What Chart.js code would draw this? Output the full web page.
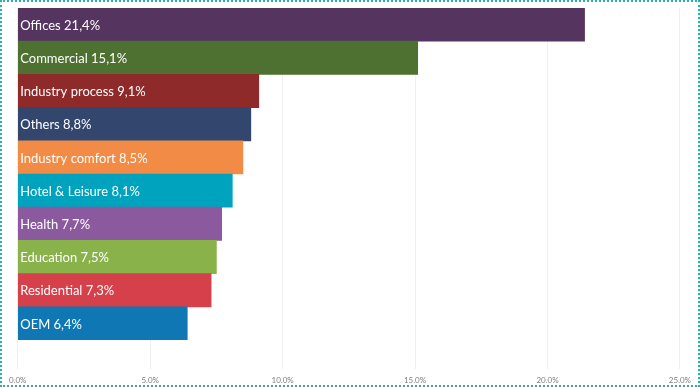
<!DOCTYPE html>
<html>
<head>
<meta charset="utf-8">
<script src="https://cdn.jsdelivr.net/npm/chart.js@4"></script>
<style>
  html, body { margin: 0; padding: 0; background: #fff; }
  #wrap { box-sizing: border-box; width: 700px; height: 387px; border: 2px dotted #1fb5aa; position: relative; }
  canvas { display: block; }
</style>
</head>
<body>
<div id="wrap"><canvas id="c" width="696" height="383"></canvas></div>
<script>
const categories = ["Offices", "Commercial", "Industry process", "Others", "Industry comfort", "Hotel & Leisure", "Health", "Education", "Residential", "OEM"];
const shares = [21.4, 15.1, 9.1, 8.8, 8.5, 8.1, 7.7, 7.5, 7.3, 6.4];
const barColors = ["#553560", "#4e7132", "#8e2a2a", "#33466e", "#f28b45", "#00a3be", "#8b5a9e", "#8ab24a", "#d6404a", "#0f78b4"];
const xTicks = [0, 5, 10, 15, 20, 25];

const fmt = v => v.toFixed(1).replace('.', ',') + '%';

const insideLabels = {
  id: 'insideLabels',
  afterDatasetsDraw(chart) {
    const ctx = chart.ctx;
    const meta = chart.getDatasetMeta(0);
    ctx.save();
    ctx.font = '13px Lato, "Open Sans", sans-serif';
    ctx.fillStyle = '#ffffff';
    ctx.textBaseline = 'middle';
    ctx.textAlign = 'left';
    meta.data.forEach((bar, i) => {
      ctx.fillText(categories[i] + ' ' + fmt(shares[i]), bar.base + 2, bar.y + 1);
    });
    ctx.restore();
  }
};

new Chart(document.getElementById('c'), {
  type: 'bar',
  data: {
    labels: categories,
    datasets: [{
      data: shares,
      backgroundColor: barColors,
      borderWidth: 0,
      barPercentage: 1,
      categoryPercentage: 1
    }]
  },
  options: {
    indexAxis: 'y',
    responsive: false,
    animation: false,
    layout: { padding: { left: 15, right: 17, top: 6, bottom: 2 } },
    plugins: { legend: { display: false }, tooltip: { enabled: false } },
    scales: {
      x: {
        min: 0, max: 25,
        afterBuildTicks(scale) { scale.ticks = xTicks.map(v => ({ value: v })); },
        afterFit(scale) { scale.height = 43; },
        border: { display: false },
        grid: { color: '#f0f0f0', lineWidth: 1, drawTicks: true, tickLength: 29 },
        ticks: {
          padding: 7,
          color: '#7f7f7f',
          font: { size: 8, family: 'Lato, "Open Sans", sans-serif' },
          maxRotation: 0,
          callback: v => fmt(v)
        }
      },
      y: {
        display: false,
        grid: { display: false }
      }
    }
  },
  plugins: [insideLabels]
});
</script>
</body>
</html>
